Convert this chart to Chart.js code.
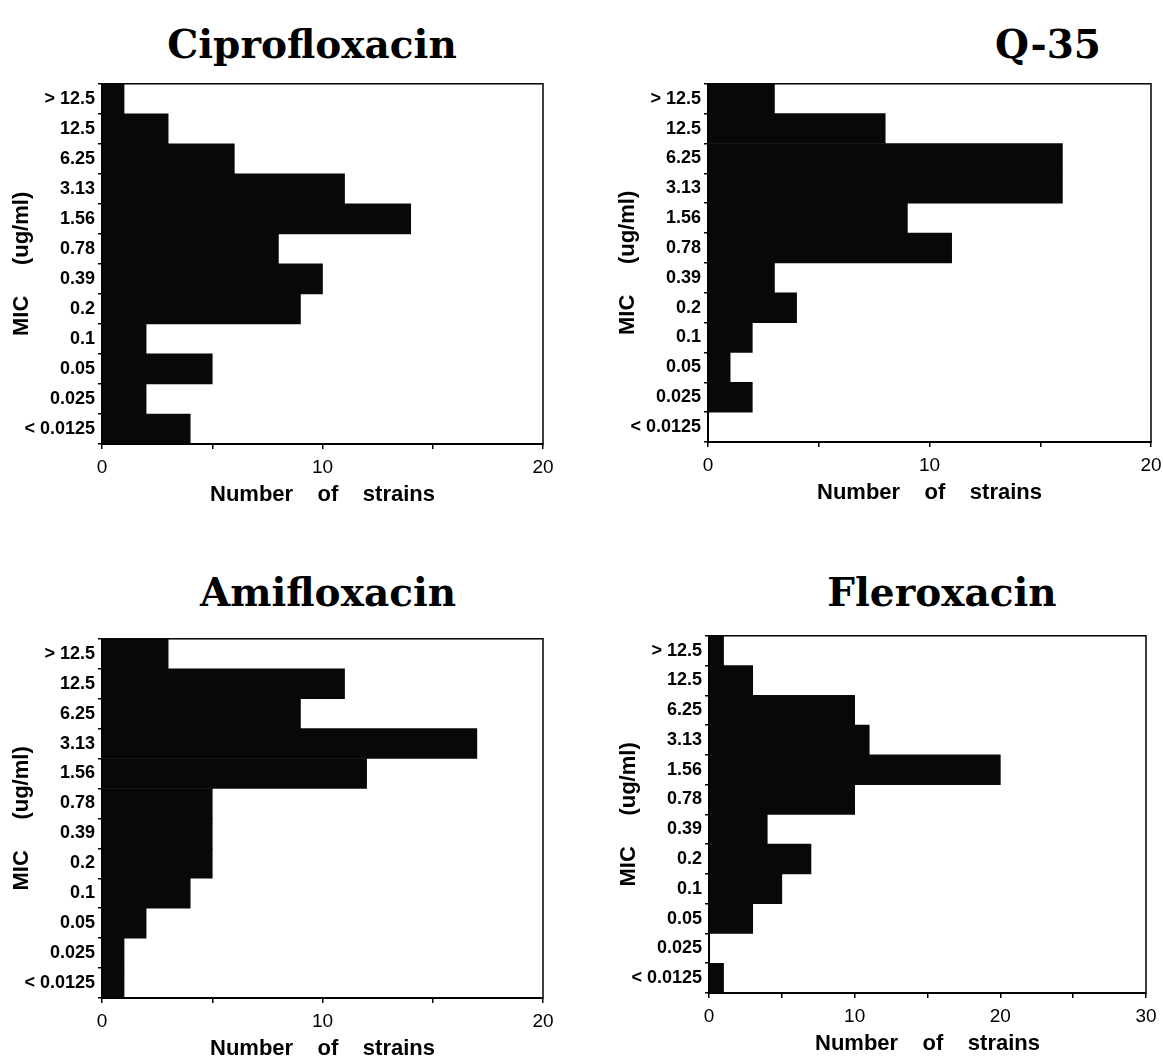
<!DOCTYPE html>
<html>
<head>
<meta charset="utf-8">
<script src="https://cdn.jsdelivr.net/npm/chart.js@4/dist/chart.umd.min.js"></script>
<style>
  body { margin: 0; background: #fff; }
  #page { position: relative; width: 1163px; height: 1059px; background: #fff; overflow: hidden; }
  .panel { position: absolute; }
  .title {
    position: absolute; transform: translate(-50%, -50%); white-space: nowrap;
    font-family: "DejaVu Serif", serif; font-weight: bold; font-size: 39px; color: #000;
  }
</style>
</head>
<body>
<div id="page">
  <div class="title" style="left:312px; top:44px;">Ciprofloxacin</div>
  <div class="title" style="left:1048px; top:44px;">Q-35</div>
  <div class="title" style="left:328px; top:592px;">Amifloxacin</div>
  <div class="title" style="left:942px; top:592px;">Fleroxacin</div>
</div>
<script>
// MIC categories, top to bottom
const micLabels = ['> 12.5', '12.5', '6.25', '3.13', '1.56', '0.78', '0.39', '0.2', '0.1', '0.05', '0.025', '< 0.0125'];

// number of strains per MIC
const ciprofloxacin = [1, 3, 6, 11, 14, 8, 10, 9, 2, 5, 2, 4];
const q35 = [3, 8, 16, 16, 9, 11, 3, 4, 2, 1, 2, 0];
const amifloxacin = [3, 11, 9, 17, 12, 5, 5, 5, 4, 2, 1, 1];
const fleroxacin = [1, 3, 10, 11, 20, 10, 4, 7, 5, 3, 0, 1];

// x-axis maximum for each panel
const axisMax = [20, 20, 20, 30];

// box around the plot area (top and right edges)
const frame = {
  id: 'frame',
  afterDraw(chart) {
    const a = chart.chartArea, ctx = chart.ctx;
    ctx.save();
    ctx.strokeStyle = '#000';
    ctx.lineWidth = 1.5;
    ctx.strokeRect(a.left, a.top, a.right - a.left, a.bottom - a.top);
    ctx.restore();
  }
};

const yAxisWidth = 102;
const xAxisHeight = 66;

function makePanel(values, max, area) {
  // area = plot box [left, top, right, bottom] on the page
  const [L, T, R, B] = area;
  const cx = L - yAxisWidth, cy = T - 10;
  const cw = R - cx + 20, ch = B - cy + xAxisHeight;
  const wrap = document.createElement('div');
  wrap.className = 'panel';
  wrap.style.cssText = `left:${cx}px;top:${cy}px;width:${cw}px;height:${ch}px;`;
  const canvas = document.createElement('canvas');
  wrap.appendChild(canvas);
  document.getElementById('page').appendChild(wrap);

  new Chart(canvas.getContext('2d'), {
    type: 'bar',
    data: {
      labels: micLabels,
      datasets: [{
        data: values,
        backgroundColor: '#080808',
        borderWidth: 0,
        barPercentage: 1,
        categoryPercentage: 1
      }]
    },
    options: {
      indexAxis: 'y',
      responsive: true,
      maintainAspectRatio: false,
      animation: false,
      layout: { padding: { top: 10, right: 20, left: 0, bottom: 0 } },
      plugins: { legend: { display: false }, tooltip: { enabled: false } },
      scales: {
        x: {
          min: 0,
          max: max,
          afterFit: s => { s.height = xAxisHeight; },
          ticks: {
            stepSize: 5,
            autoSkip: false,
            maxRotation: 0,
            padding: 7,
            color: '#000',
            font: { family: 'Liberation Sans', size: 19 },
            callback: v => (v % 10 === 0 ? v : '')
          },
          grid: { drawOnChartArea: false, drawTicks: true, tickLength: 5, color: '#000', lineWidth: 1.5 },
          border: { display: true, color: '#000', width: 2 },
          title: {
            display: true,
            text: 'Number    of    strains',
            color: '#000',
            padding: { top: 0, bottom: 2 },
            font: { family: 'Liberation Sans', size: 22, weight: 'bold' }
          }
        },
        y: {
          afterFit: s => { s.width = yAxisWidth; },
          ticks: {
            autoSkip: false,
            padding: 3,
            color: '#000',
            font: { family: 'Liberation Sans', size: 18, weight: 'bold' }
          },
          grid: { drawOnChartArea: false, drawTicks: true, tickLength: 4, color: '#000', lineWidth: 1.5 },
          border: { display: true, color: '#000', width: 2 },
          title: {
            display: true,
            text: 'MIC     (ug/ml)',
            color: '#000',
            padding: { top: 9, bottom: 0 },
            font: { family: 'Liberation Sans', size: 22, weight: 'bold' }
          }
        }
      }
    },
    plugins: [frame]
  });
}

makePanel(ciprofloxacin, axisMax[0], [102, 80, 543, 444]);
makePanel(q35, axisMax[1], [708, 80, 1151, 442]);
makePanel(amifloxacin, axisMax[2], [102, 635, 543, 998]);
makePanel(fleroxacin, axisMax[3], [709, 632, 1146, 993]);
</script>
</body>
</html>
